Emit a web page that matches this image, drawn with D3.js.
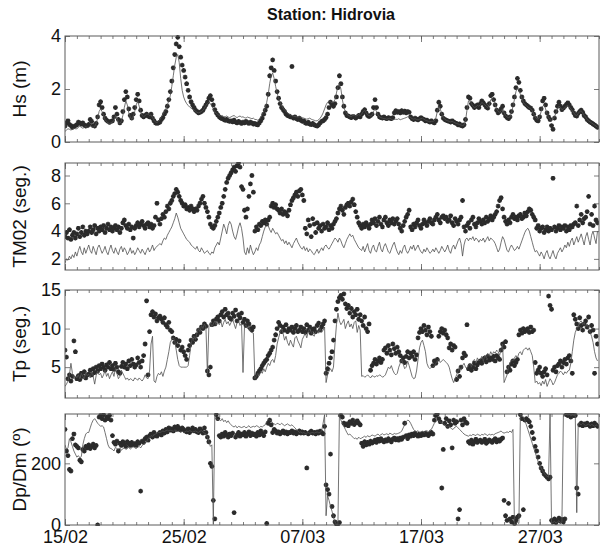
<!DOCTYPE html>
<html>
<head>
<meta charset="utf-8">
<script src="https://cdn.jsdelivr.net/npm/d3@7"></script>
<style>
  html, body { margin: 0; padding: 0; background: #fff; }
  svg { display: block; font-family: "Liberation Sans", Arial, Helvetica, sans-serif; }
</style>
</head>
<body>
<svg id="chart" width="607" height="546"></svg>
<script>
// Station Hidrovia: measured (markers) vs modelled (line) wave parameters,
// 3-hourly samples from 15/02 00h, one row per day.

const startDate = "15/02/2010";
const endDate = "01/04/2010";
const stepHours = 3;
const xTickLabels = ["15/02", "25/02", "07/03", "17/03", "27/03"];

const hsTicks = [0, 2, 4];
const tm02Ticks = [2, 4, 6, 8];
const tpTicks = [5, 10, 15];
const dirTicks = [0, 200];

// Significant wave height (m)
const hsObs = [
  0.60, 0.72, 0.80, 0.66, 0.62, 0.55, 0.58, 0.62,
  0.65, 0.75, 0.72, 0.68, 0.72, 0.64, 0.60, 0.62,
  0.66, 0.85, 0.78, 0.62, 0.60, 0.70, 0.95, 1.40,
  1.52, 1.30, 1.05, 0.90, 0.82, 0.78, 0.74, 0.78,
  0.80, 0.95, 1.30, 1.05, 0.85, 0.72, 0.80, 1.15,
  1.60, 1.90, 1.70, 1.25, 1.00, 0.90, 1.05, 1.30,
  1.60, 1.80, 1.55, 1.20, 1.00, 0.95, 1.00, 1.05,
  0.98, 0.95, 1.05, 0.90, 0.80, 0.72, 0.70, 0.72,
  0.75, 0.85, 0.92, 1.05, 1.15, 1.35, 1.60, 1.90,
  2.30, 2.80, 3.30, 3.70, 3.95, 3.60, 3.20, 2.90,
  2.70, 2.45, 2.20, 1.95, 1.70, 1.52, 1.40, 1.30,
  1.20, 1.15, 1.10, 1.12, 1.15, 1.20, 1.30, 1.40,
  1.50, 1.65, 1.75, 1.60, 1.40, 1.22, 1.10, 1.02,
  0.95, 0.90, 0.88, 0.85, 0.82, 0.85, 0.80, 0.78,
  0.80, 0.76, 0.82, 0.75, 0.72, 0.78, 0.74, 0.70,
  0.75, 0.72, 0.78, 0.74, 0.70, 0.75, 0.72, 0.68,
  0.70, 0.66, 0.65, 0.72, 0.80, 0.90, 1.05, 1.20,
  1.35, 1.80, 2.50, 2.80, 3.10, 2.70, 2.30, 1.90,
  1.65, 1.45, 1.30, 1.22, 1.15, 1.05, 1.00, 0.98,
  0.95, 2.85, 0.90, 0.95, 0.88, 0.85, 0.90, 0.82,
  0.78, 0.80, 0.72, 0.70, 0.75, 0.68, 0.66, 0.70,
  0.65, 0.62, 0.60, 0.65, 0.72, 0.78, 0.80, 0.85,
  0.92, 1.05, 1.30, 1.50, 1.42, 1.35, 1.45, 1.70,
  2.05, 2.50, 2.20, 1.70, 1.35, 1.10, 1.00, 0.98,
  0.95, 0.92, 0.96, 0.95, 0.90, 0.95, 1.00, 0.95,
  1.05, 1.15, 1.22, 1.10, 1.00, 0.96, 1.00, 1.05,
  1.30, 1.60, 1.30, 1.05, 0.95, 0.92, 0.90, 0.95,
  0.90, 0.88, 0.92, 0.90, 0.88, 0.92, 1.10, 1.18,
  1.12, 1.15, 1.10, 1.18, 1.12, 1.16, 1.10, 1.15,
  1.12, 0.95, 0.88, 0.85, 0.90, 0.86, 0.84, 0.88,
  0.92, 0.88, 0.85, 0.80, 0.82, 0.78, 0.75, 0.80,
  0.75, 0.72, 0.80, 1.20, 1.50, 1.35, 1.05, 0.90,
  0.85, 0.82, 0.80, 0.78, 0.75, 0.80, 0.76, 0.72,
  0.70, 0.65, 0.68, 0.62, 0.60, 0.65, 0.85, 1.30,
  1.70, 1.65, 1.45, 1.38, 1.30, 1.35, 1.40, 1.30,
  1.45, 1.55, 1.48, 1.40, 1.32, 1.28, 1.45, 1.75,
  1.80, 1.60, 1.40, 1.20, 1.10, 1.15, 1.25, 1.35,
  1.10, 0.98, 0.92, 0.88, 0.95, 1.15, 1.40, 1.70,
  2.05, 2.40, 2.25, 1.95, 1.70, 1.55, 1.45, 1.40,
  1.35, 1.30, 1.28, 1.20, 1.05, 0.90, 0.82, 0.80,
  0.95, 1.25, 1.55, 1.65, 1.40, 1.10, 0.95, 0.85,
  0.62, 0.48, 0.90, 1.15, 1.35, 1.50, 1.35, 1.22,
  1.28, 1.35, 1.42, 1.48, 1.40, 1.30, 1.22, 1.10,
  1.00, 0.98, 1.08, 1.15, 1.20, 1.12, 1.00, 0.95,
  0.85, 0.80, 0.75, 0.72, 0.68, 0.64, 0.60, 0.55
];
const hsModel = [
  0.40, 0.45, 0.50, 0.48, 0.45, 0.48, 0.52, 0.50,
  0.50, 0.55, 0.60, 0.55, 0.52, 0.55, 0.58, 0.55,
  0.55, 0.60, 0.58, 0.55, 0.58, 0.70, 0.90, 1.15,
  1.25, 1.15, 1.00, 0.85, 0.78, 0.72, 0.70, 0.72,
  0.75, 0.82, 1.00, 0.90, 0.75, 0.70, 0.78, 1.00,
  1.30, 1.55, 1.40, 1.10, 0.95, 0.85, 0.95, 1.15,
  1.40, 1.55, 1.35, 1.15, 1.00, 0.95, 1.00, 1.05,
  1.05, 1.00, 1.02, 0.92, 0.82, 0.75, 0.74, 0.78,
  0.85, 0.95, 1.05, 1.15, 1.25, 1.40, 1.55, 1.75,
  2.10, 2.50, 2.90, 3.20, 3.30, 3.00, 2.40, 1.95,
  1.70, 1.55, 1.45, 1.38, 1.32, 1.28, 1.24, 1.20,
  1.16, 1.12, 1.10, 1.12, 1.15, 1.20, 1.28, 1.38,
  1.45, 1.50, 1.45, 1.35, 1.25, 1.15, 1.08, 1.04,
  1.00, 0.98, 1.00, 0.96, 0.95, 0.98, 0.94, 0.92,
  0.95, 0.98, 1.00, 0.95, 0.92, 0.96, 0.98, 0.94,
  0.95, 0.92, 0.90, 0.94, 0.92, 0.90, 0.88, 0.90,
  0.85, 0.85, 0.82, 0.86, 0.95, 1.05, 1.15, 1.30,
  1.50, 1.80, 2.20, 2.50, 2.60, 2.40, 2.10, 1.85,
  1.65, 1.50, 1.38, 1.28, 1.20, 1.15, 1.10, 1.05,
  1.02, 1.00, 0.98, 0.96, 0.95, 0.94, 0.95, 0.93,
  0.92, 0.90, 0.88, 0.86, 0.88, 0.90, 0.86, 0.84,
  0.82, 0.80, 0.80, 0.84, 0.90, 0.98, 1.10, 1.25,
  1.40, 1.50, 1.55, 1.52, 1.48, 1.50, 1.60, 1.85,
  2.10, 2.20, 2.00, 1.60, 1.30, 1.15, 1.05, 1.00,
  0.98, 0.96, 1.00, 1.02, 0.98, 1.00, 1.04, 1.00,
  1.05, 1.15, 1.20, 1.10, 1.02, 1.00, 0.98, 1.02,
  1.15, 1.25, 1.15, 1.02, 0.95, 0.92, 0.90, 0.88,
  0.88, 0.86, 0.88, 0.90, 0.86, 0.84, 0.85, 0.86,
  0.85, 0.88, 0.84, 0.86, 0.88, 0.90, 0.92, 0.95,
  0.95, 0.92, 0.88, 0.86, 0.88, 0.85, 0.83, 0.86,
  0.88, 0.90, 0.86, 0.82, 0.80, 0.78, 0.76, 0.78,
  0.78, 0.80, 0.90, 1.15, 1.35, 1.25, 1.05, 0.92,
  0.86, 0.82, 0.80, 0.78, 0.76, 0.78, 0.75, 0.72,
  0.70, 0.68, 0.66, 0.64, 0.62, 0.64, 0.80, 1.20,
  1.55, 1.55, 1.45, 1.35, 1.30, 1.32, 1.38, 1.35,
  1.40, 1.50, 1.45, 1.40, 1.35, 1.30, 1.40, 1.60,
  1.65, 1.55, 1.40, 1.25, 1.15, 1.12, 1.18, 1.25,
  1.10, 1.00, 0.95, 0.92, 0.95, 1.10, 1.35, 1.60,
  1.90, 2.05, 1.95, 1.80, 1.65, 1.50, 1.42, 1.38,
  1.32, 1.28, 1.25, 1.18, 1.05, 0.95, 0.88, 0.86,
  0.95, 1.15, 1.35, 1.40, 1.25, 1.05, 0.92, 0.85,
  0.80, 0.85, 0.95, 1.10, 1.25, 1.35, 1.30, 1.22,
  1.25, 1.30, 1.35, 1.38, 1.32, 1.25, 1.18, 1.10,
  1.02, 1.00, 1.08, 1.15, 1.18, 1.10, 1.00, 0.94,
  0.85, 0.80, 0.76, 0.72, 0.68, 0.64, 0.60, 0.56
];

// Mean period TM02 (s)
const tm02Obs = [
  3.6, 3.9, 3.5, 4.1, 3.4, 3.7, 3.9, 3.5,
  3.8, 4.2, 3.6, 3.9, 4.3, 3.7, 4.0, 3.8,
  4.0, 4.3, 3.9, 4.1, 4.4, 3.8, 4.2, 4.0,
  4.3, 4.1, 4.4, 3.9, 4.2, 4.5, 4.1, 4.3,
  4.0, 4.2, 4.4, 4.1, 4.3, 3.9, 4.2, 4.6,
  4.8, 4.4, 4.2, 4.5, 4.1, 4.3, 3.5, 4.2,
  4.4, 4.6, 4.3, 4.5, 4.7, 4.4, 4.2, 4.5,
  4.6, 4.3, 4.5, 4.2, 4.4, 5.0, 6.0, 4.8,
  4.5, 4.9, 5.2, 5.0, 5.4, 5.8, 5.6, 6.0,
  6.2, 6.5, 6.7, 7.0, 6.8, 6.5, 6.2, 6.0,
  5.8, 5.9, 5.6, 5.7, 5.5, 5.8, 5.6, 5.4,
  5.6, 5.5, 5.8, 6.0, 6.3, 6.5, 6.0, 5.7,
  5.4, 5.0, 4.5, 4.3, 4.2, 4.4, 4.7, 5.0,
  5.3, 5.7, 6.0, 6.5, 7.0, 7.5, 7.8, 8.0,
  8.2, 8.4, 8.6, 8.3, 8.7, 8.9, 8.6, 7.2,
  7.0, 5.5, 5.0, 5.6, 6.5, 7.4, 8.0, 6.8,
  4.0, 4.3, 4.1, 4.5, 4.4, 4.7, 4.6, 4.8,
  4.5, 4.8, 5.0, 5.8, 6.0, 5.7, 5.9, 5.6,
  5.5, 5.3, 5.6, 5.2, 5.4, 5.3, 5.1, 5.5,
  5.9, 6.2, 6.4, 6.6, 6.8, 6.5, 6.9, 7.0,
  6.6, 6.2, 4.2, 3.8, 4.8, 4.4, 3.6, 4.9,
  4.5, 3.9, 4.6, 4.2, 4.4, 4.0, 4.5, 4.2,
  4.3, 4.6, 4.1, 4.4, 4.2, 4.5, 4.7, 4.9,
  5.3, 5.6, 5.8, 5.5, 5.2, 5.7, 5.9, 6.0,
  5.8, 6.1, 6.3, 5.9, 5.4, 5.0, 4.6, 4.4,
  4.2, 4.5, 4.3, 4.6, 4.4, 4.2, 4.5, 4.8,
  4.6, 4.9, 4.4, 4.7, 5.0, 4.5, 4.3, 4.8,
  5.0, 4.6, 4.4, 4.8, 4.6, 4.9, 4.5, 4.7,
  4.9, 4.5, 4.2, 4.0, 4.4, 4.7, 5.0, 5.2,
  5.5, 4.3, 4.1, 4.5, 4.3, 4.6, 4.8, 4.4,
  4.2, 4.5, 4.8, 4.6, 4.4, 4.7, 4.9, 4.6,
  4.5, 4.8, 5.0, 5.2, 4.8, 4.6, 5.0, 5.1,
  4.9, 5.0, 4.7, 4.8, 5.1, 4.6, 4.4, 4.9,
  4.7, 4.5, 4.8, 5.0, 6.2, 4.3, 4.0, 4.4,
  4.6, 4.2, 4.8, 5.0, 4.5, 4.3, 4.6, 4.9,
  4.7, 4.5, 4.8, 4.6, 5.0, 4.7, 4.9, 5.1,
  4.8, 5.0, 5.2, 5.4, 5.8, 6.2, 6.4, 5.6,
  5.0, 4.7, 4.5, 4.8, 4.6, 5.0, 5.2, 4.9,
  5.0, 4.8, 5.1, 5.2, 4.9, 5.0, 5.3, 5.1,
  5.4, 5.6, 5.5, 5.2, 5.0, 4.8, 4.2, 4.4,
  4.0, 4.2, 4.3, 3.9, 4.1, 4.3, 4.0, 4.2,
  4.1, 7.8, 4.3, 4.0, 4.2, 4.4, 4.1, 4.3,
  4.2, 4.4, 4.0, 4.3, 4.1, 4.4, 4.3, 4.5,
  4.6, 5.8, 4.4, 4.8, 5.2, 4.6, 4.9, 5.0,
  5.4, 6.5, 4.5, 5.2, 4.4, 5.8, 4.8, 4.6
];
const tm02Model = [
  1.7, 2.0, 1.9, 2.2, 2.0, 2.3, 2.1, 2.5,
  2.2, 2.6, 2.9, 2.5, 2.3, 2.8, 2.4, 2.7,
  3.0, 2.6, 2.4, 2.9, 2.6, 2.3, 2.8, 3.0,
  2.7, 2.4, 2.6, 2.9, 2.5, 2.3, 2.7, 3.0,
  2.6, 2.4, 2.8, 2.5, 2.3, 2.7, 2.9, 2.5,
  2.8, 2.6, 2.3, 2.5, 2.8, 2.4, 2.6, 2.3,
  2.5, 2.8, 2.6, 2.4, 2.7, 2.5, 2.3, 2.6,
  2.8, 2.5, 2.7, 3.0, 2.6, 2.8, 2.9, 3.0,
  3.1, 3.0, 3.3, 3.5, 3.4, 3.7, 3.9, 4.1,
  4.3, 4.6, 4.9, 5.3, 5.0, 4.6, 4.2, 4.0,
  3.8, 3.6, 3.4, 3.3, 3.2, 3.0, 2.9, 2.8,
  2.7, 2.9, 2.6, 2.5, 2.8, 2.6, 2.4, 2.5,
  2.6, 2.4, 2.3, 2.5, 2.4, 2.8, 3.0, 3.2,
  3.0, 3.5, 4.0, 4.5, 4.2, 3.8, 4.4, 4.7,
  4.5, 4.0, 3.6, 3.4, 3.8, 4.3, 4.6, 4.2,
  3.5, 2.5, 2.3, 2.8, 2.4, 3.0, 2.6, 2.3,
  2.5, 2.8, 2.6, 3.0, 3.2, 3.6, 4.0, 4.3,
  4.5, 4.4, 4.1, 3.9, 4.2, 4.0, 3.8, 3.9,
  3.7, 3.5, 3.3, 3.4, 3.1, 3.3, 3.0, 3.2,
  3.0, 2.8, 3.1, 3.3, 3.5, 3.2, 3.0, 2.8,
  2.7, 2.9, 2.6, 2.8, 2.5, 2.7, 2.6, 2.4,
  2.3, 2.5, 2.7, 2.4, 2.6, 2.8, 2.6, 2.9,
  3.0, 2.8, 2.7, 2.9, 3.1, 3.3, 3.5, 3.4,
  3.2, 3.5, 3.3, 3.0, 2.8, 3.1, 3.4, 3.6,
  3.8, 3.6, 3.7, 3.4, 3.2, 3.0, 2.8, 2.7,
  2.6, 2.9, 2.5, 2.8, 3.1, 2.6, 2.4, 2.8,
  3.0, 2.6, 2.5, 2.9, 3.2, 2.7, 2.5, 2.9,
  3.1, 2.8, 2.5, 2.4, 2.7, 3.0, 3.2, 2.8,
  2.5, 2.3, 2.6, 2.4, 2.8, 3.0, 2.6, 2.4,
  2.6, 2.9, 2.7, 3.0, 2.6, 2.8, 3.0, 2.7,
  2.5, 2.4, 2.7, 2.5, 2.8, 2.6, 2.4, 2.5,
  2.7, 2.5, 2.8, 2.6, 2.4, 2.6, 2.9, 2.7,
  2.5, 2.7, 3.0, 2.6, 2.4, 2.8, 3.0, 2.7,
  3.0, 3.3, 3.5, 3.1, 2.2, 3.0, 3.4, 3.5,
  3.3, 3.5, 3.4, 3.6, 3.3, 3.5, 3.4, 3.2,
  3.4, 3.3, 3.5, 3.2, 3.4, 3.6, 3.3, 3.5,
  3.4, 3.3, 3.1, 2.8, 2.5, 2.7, 3.2, 3.6,
  3.4, 3.0, 2.6, 2.5, 2.8, 3.0, 2.8, 2.6,
  2.7, 2.9, 2.7, 3.0, 3.3, 3.6, 3.9, 4.1,
  4.2, 4.0, 3.6, 3.2, 2.8, 2.5, 2.6, 2.4,
  2.2, 2.5, 2.3, 2.0, 2.4, 2.6, 2.2, 2.0,
  2.3, 2.6, 2.2, 2.0, 2.4, 2.6, 2.8, 2.5,
  2.7, 3.0, 2.8, 3.2, 2.9, 3.3, 3.5, 3.0,
  3.3, 3.6, 3.2, 3.5, 3.8, 3.4, 3.0, 3.6,
  3.9, 3.4, 3.0, 3.7, 4.0, 3.5, 3.1, 4.0
];

// Peak period Tp (s)
const tpObs = [
  7.2, 6.3, 3.5, 4.0, 3.2, 3.8, 8.4, 7.0,
  3.5, 3.9, 3.4, 4.2, 3.8, 4.4, 3.6, 4.0,
  4.1, 4.6, 4.0, 4.8, 4.3, 5.0, 4.5, 5.2,
  4.8, 5.4, 5.0, 4.6, 5.3, 5.0, 5.6, 4.8,
  5.2, 4.7, 5.5, 5.0, 4.4, 4.2, 5.1, 5.6,
  5.0, 5.4, 4.8, 5.8, 5.2, 6.0, 5.4, 5.0,
  5.3, 6.2, 5.6, 5.0, 5.8, 6.5, 8.0, 13.6,
  4.0, 9.6, 11.8, 12.2, 11.5, 11.9, 11.0, 11.4,
  11.6, 11.2, 10.8, 11.4, 10.5, 10.2, 10.8, 9.8,
  9.6, 8.8, 8.2, 8.6, 7.8, 8.4, 7.2, 7.6,
  7.0, 6.5, 6.0, 7.2, 7.8, 8.5, 8.2, 9.0,
  8.6, 9.2, 9.8, 9.5, 10.2, 10.0, 10.6, 10.3,
  4.5, 4.0, 5.0, 10.5, 11.0, 10.6, 11.2, 11.5,
  11.0, 11.8, 12.2, 11.5, 12.5, 11.8, 12.0, 11.4,
  11.2, 12.0, 11.6, 12.4, 11.0, 11.8, 11.4, 12.0,
  10.8, 11.2, 10.4, 11.0, 10.6, 10.0, 9.8, 10.2,
  3.6, 3.8, 4.2, 4.5, 4.8, 5.2, 5.5, 5.8,
  6.0, 6.5, 6.8, 7.2, 7.6, 8.5, 9.2, 10.0,
  10.8, 10.4, 9.6, 10.2, 9.8, 10.5, 9.6, 10.0,
  9.8, 10.2, 9.5, 10.0, 10.4, 9.6, 9.8, 10.2,
  9.6, 10.0, 9.5, 10.5, 9.8, 10.2, 9.4, 9.9,
  10.0, 9.6, 10.4, 10.7, 9.8, 10.2, 10.6, 11.0,
  4.2, 4.8, 5.5, 6.2, 7.0, 8.5, 11.0, 12.5,
  13.5, 14.0, 14.3, 13.8, 14.5, 13.2, 12.6, 13.0,
  12.0, 12.6, 11.5, 12.2, 11.8, 12.5, 11.2, 11.8,
  11.0, 10.4, 11.5, 10.0, 9.6, 10.6, 4.6, 5.2,
  5.5, 6.0, 5.4, 5.8, 6.2, 5.6, 6.0, 7.2,
  7.5, 6.8, 7.8, 7.2, 6.6, 8.0, 7.4, 6.8,
  7.6, 7.0, 6.5, 5.8, 6.2, 5.6, 6.4, 7.0,
  6.2, 6.8, 6.4, 7.0, 6.0, 6.6, 8.8, 9.5,
  10.0, 9.6, 10.4, 9.8, 9.2, 10.2, 9.6, 9.0,
  5.2, 5.8, 5.5, 6.0, 9.0, 9.6, 10.0, 9.4,
  9.8, 9.2, 8.8, 7.5, 8.0, 7.2, 7.8, 7.6,
  3.4, 4.5, 3.8, 5.0, 6.2, 6.8, 6.5, 10.5,
  4.8, 5.2, 4.6, 5.0, 5.5, 4.8, 5.3, 5.6,
  5.8, 5.5, 6.0, 6.2, 5.7, 6.4, 5.9, 6.2,
  6.0, 6.4, 5.8, 6.5, 6.2, 6.0, 7.2, 8.0,
  7.6, 8.3, 4.4, 5.0, 4.6, 5.4, 5.8, 5.2,
  5.6, 6.0, 9.2, 9.8, 9.4, 10.0, 9.6, 9.8,
  10.0, 9.5, 10.2, 9.6, 9.8, 5.6, 4.2, 4.6,
  5.0, 4.2, 3.8, 4.4, 4.8, 4.0, 14.2, 13.0,
  12.5, 4.6, 5.0, 4.4, 5.2, 5.4, 5.8, 5.0,
  5.6, 6.0, 5.4, 6.2, 6.5, 5.8, 4.2, 11.8,
  11.2, 10.6, 10.0, 11.4, 10.4, 9.8, 10.6, 11.0,
  10.2, 11.5, 9.6, 10.4, 9.8, 4.2, 9.0, 8.0
];
const tpModel = [
  2.5, 2.8, 3.2, 4.0, 5.5, 4.2, 3.5, 3.8,
  3.6, 4.0, 3.5, 4.2, 3.8, 3.5, 4.3, 3.9,
  4.1, 3.6, 4.4, 3.8, 2.8, 3.9, 4.5, 4.0,
  4.2, 3.6, 4.0, 4.6, 3.8, 4.2, 3.5, 4.0,
  4.4, 3.8, 4.8, 4.2, 3.5, 3.8, 4.6, 4.2,
  3.8, 3.4, 3.6, 3.3, 3.5, 3.4, 3.2, 3.6,
  3.5, 3.3, 3.6, 3.4, 3.2, 3.5, 4.0, 3.6,
  3.5, 4.5, 8.0, 9.0, 3.2, 3.0, 3.8, 4.2,
  4.0, 4.4, 3.8, 4.5, 5.0, 6.0, 7.0, 8.2,
  8.6, 8.8, 8.4, 7.2, 6.0, 5.2, 5.0, 5.0,
  5.0, 5.0, 5.0, 5.2, 6.5, 8.0, 8.8, 9.0,
  8.6, 9.5, 10.0, 9.6, 10.4, 10.0, 10.6, 10.2,
  4.2, 10.4, 10.8, 10.2, 10.6, 11.0, 10.4, 10.8,
  10.5, 11.0, 10.2, 10.8, 11.2, 10.6, 10.9, 10.4,
  10.8, 11.2, 10.6, 10.0, 10.8, 11.0, 10.4, 10.7,
  4.3, 10.2, 10.5, 10.0, 10.4, 9.6, 9.5, 9.4,
  3.5, 3.8, 4.2, 3.9, 4.5, 4.2, 4.8, 4.4,
  5.0, 5.5, 5.2, 5.8, 6.0, 5.6, 6.5, 8.0,
  8.8, 9.5, 10.0, 9.4, 8.5, 9.0, 8.2, 7.8,
  8.5, 8.0, 7.6, 8.8, 9.0, 8.4, 8.0, 7.5,
  8.6, 9.0, 9.4, 8.8, 9.6, 10.0, 9.5, 9.2,
  9.0, 9.6, 9.8, 9.4, 10.0, 9.5, 9.8, 10.2,
  3.0, 4.0, 4.5, 4.8, 4.4, 5.0, 8.0, 10.5,
  12.0, 11.0, 10.5, 10.8, 11.2, 10.0, 10.6, 11.0,
  10.2, 10.6, 10.0, 10.8, 11.0, 9.5, 10.4, 9.8,
  3.8, 3.9, 3.7, 3.8, 4.0, 3.8, 3.6, 3.9,
  3.8, 3.7, 3.9, 3.8, 4.0, 3.9, 3.7, 3.8,
  4.0, 4.5, 5.0, 4.8, 5.2, 4.6, 4.2, 4.0,
  4.2, 5.0, 5.5, 6.0, 5.4, 4.8, 5.0, 5.8,
  5.2, 4.5, 3.8, 3.5, 3.6, 4.5, 6.0, 7.5,
  8.2, 8.5, 7.8, 7.0, 5.5, 5.0, 4.8, 5.0,
  5.0, 5.2, 5.5, 5.8, 6.0, 5.6, 5.8, 6.0,
  5.8, 5.6, 5.4, 5.0, 4.2, 3.5, 3.0, 3.5,
  4.0, 4.5, 5.0, 4.6, 5.2, 5.5, 5.0, 4.8,
  5.2, 5.5, 5.0, 5.8, 6.0, 5.5, 6.2, 5.8,
  6.0, 6.4, 5.8, 6.5, 6.2, 6.8, 6.4, 7.0,
  6.6, 7.0, 6.8, 7.2, 7.0, 6.5, 7.4, 8.0,
  3.0, 3.5, 4.0, 5.0, 5.5, 6.0, 5.8, 6.2,
  6.5, 6.2, 6.8, 7.0, 6.6, 7.2, 7.4, 7.5,
  7.2, 7.5, 7.0, 6.5, 5.0, 3.0, 3.2, 2.8,
  3.0, 2.6, 3.2, 2.8, 3.4, 2.5, 3.0, 3.5,
  3.2, 2.7, 3.0, 3.5, 4.0, 4.2, 4.5, 4.3,
  4.0, 4.4, 4.2, 4.5, 4.6, 5.5, 7.0, 8.5,
  9.5, 10.0, 10.2, 10.8, 11.0, 10.5, 10.8, 10.2,
  10.6, 10.0, 9.5, 9.0, 8.2, 7.0, 6.2, 5.8
];

// Peak / mean direction (degrees)
const dirObs = [
  310, 240, 225, 180, 175, 280, 295, 260,
  255, 250, 210, 205, 245, 240, 255, 250,
  260, 248, 255, 262, 250, 258, 0, 350,
  355, 345, 358, 340, 350, 345, 355, 340,
  290, 268, 262, 272, 240, 265, 258, 270,
  262, 255, 270, 265, 258, 268, 260, 264,
  258, 270, 265, 110, 272, 268, 280, 285,
  275, 290, 295, 285, 300, 290, 288, 295,
  300, 292, 305, 298, 310, 302, 315, 308,
  312, 305, 318, 310, 320, 312, 308, 315,
  310, 305, 302, 312, 300, 308, 315, 305,
  310, 302, 300, 312, 305, 298, 315, 300,
  285, 270, 200, 190, 80, 20, 358, 345,
  290, 285, 295, 288, 300, 292, 285, 295,
  290, 298, 40, 285, 292, 300, 288, 295,
  292, 300, 288, 295, 302, 290, 298, 293,
  295, 288, 300, 292, 305, 296, 290, 302,
  5, 330, 340, 325, 300, 310, 305, 298,
  302, 296, 300, 305, 298, 302, 296, 300,
  300, 305, 298, 302, 296, 300, 305, 298,
  302, 298, 300, 185, 296, 300, 304, 298,
  300, 296, 302, 298, 304, 300, 296, 320,
  130, 115, 100, 230, 60, 30, 10, 2,
  3, 8, 355, 350, 330, 325, 328, 322,
  335, 330, 340, 326, 332, 338, 330, 325,
  265, 255, 270, 260, 268, 262, 272, 266,
  270, 275, 268, 278, 272, 280, 274, 270,
  276, 272, 280, 275, 270, 278, 282, 276,
  280, 275, 282, 278, 285, 330, 290, 280,
  292, 288, 295, 290, 298, 292, 288, 295,
  290, 296, 292, 298, 294, 290, 296, 300,
  295, 340, 355, 360, 345, 335, 120, 245,
  330, 345, 320, 338, 325, 250, 340, 330,
  335, 20, 50, 340, 325, 345, 335, 330,
  270, 265, 275, 262, 270, 278, 268, 272,
  275, 268, 272, 278, 265, 270, 276, 272,
  268, 275, 280, 270, 276, 272, 278, 282,
  80, 30, 15, 70, 20, 10, 25, 5,
  15, 25, 30, 358, 345, 50, 340, 345,
  340, 335, 320, 300, 280, 255, 240, 220,
  200, 185, 175, 165, 160, 155, 150, 155,
  15, 10, 20, 8, 15, 22, 12, 18,
  10, 20, 358, 355, 360, 350, 358, 355,
  355, 120, 100, 325, 330, 322, 328, 325,
  330, 325, 320, 328, 322, 330, 325, 320
];
const dirModel = [
  260, 245, 250, 280, 270, 255, 240, 230,
  220, 225, 218, 222, 260, 280, 295, 300,
  300, 315, 330, 340, 345, 338, 330, 325,
  320, 322, 318, 300, 280, 260, 250, 248,
  245, 240, 252, 248, 245, 250, 242, 248,
  250, 245, 248, 252, 246, 250, 255, 250,
  248, 252, 255, 250, 258, 262, 265, 270,
  280, 285, 290, 288, 292, 295, 298, 300,
  300, 302, 305, 303, 306, 308, 305, 307,
  306, 304, 308, 306, 303, 305, 302, 304,
  300, 302, 305, 303, 306, 304, 301, 303,
  305, 302, 300, 304, 306, 302, 298, 295,
  285, 270, 255, 260, 2, 360, 345, 340,
  342, 338, 345, 335, 340, 332, 338, 330,
  325, 320, 318, 322, 315, 320, 318, 316,
  318, 320, 315, 318, 322, 316, 318, 320,
  318, 322, 320, 316, 320, 318, 322, 325,
  335, 342, 340, 338, 330, 328, 325, 330,
  328, 325, 330, 326, 322, 325, 328, 324,
  322, 325, 320, 315, 310, 305, 300, 302,
  298, 300, 296, 298, 300, 297, 299, 300,
  298, 300, 302, 299, 300, 305, 330, 358,
  30, 95, 80, 60, 45, 25, 10, 2,
  3, 358, 340, 330, 320, 310, 300, 292,
  295, 290, 285, 280, 282, 278, 285, 280,
  282, 285, 288, 284, 290, 286, 288, 292,
  290, 288, 292, 295, 290, 293, 296, 292,
  294, 296, 292, 298, 295, 293, 297, 295,
  296, 298, 300, 305, 315, 325, 335, 340,
  338, 330, 320, 310, 305, 302, 306, 300,
  302, 305, 300, 304, 306, 302, 308, 310,
  320, 330, 335, 340, 338, 335, 330, 328,
  325, 320, 318, 322, 315, 310, 312, 318,
  320, 315, 310, 305, 300, 295, 292, 290,
  288, 292, 290, 294, 292, 290, 295, 292,
  290, 294, 292, 296, 293, 290, 295, 292,
  294, 292, 296, 298, 300, 302, 305, 300,
  298, 300, 302, 300, 305, 300, 310, 0,
  5, 8, 5, 358, 355, 350, 340, 325,
  310, 295, 280, 265, 250, 235, 220, 205,
  195, 185, 175, 168, 162, 158, 155, 360,
  5, 8, 12, 6, 10, 14, 8, 10,
  358, 355, 360, 356, 358, 354, 357, 355,
  356, 40, 330, 328, 325, 330, 326, 322,
  325, 328, 322, 326, 324, 320, 325, 322
];

// ---- layout ----
const svg = d3.select("#chart");
const plotLeft = 65, plotRight = 599;
const axisColor = "#5a5a5a";
const markColor = "#2b2b2b";
const lineColor = "#505050";
const tickFont = 18;
const labelFont = 19;

const parseDay = d3.utcParse("%d/%m/%Y");
const t0 = parseDay(startDate);
const t1 = parseDay(endDate);
const times = hsObs.map((_, i) => d3.utcHour.offset(t0, i * stepHours));
const majorDates = xTickLabels.map(s => {
  const [dd, mm] = s.split("/");
  return parseDay(`${dd}/${mm}/2010`);
});
const minorDates = d3.utcDay.range(t0, d3.utcDay.offset(t1, 1));

const x = d3.scaleUtc().domain([t0, t1]).range([plotLeft, plotRight]);

const panels = [
  { label: "Hs (m)", obs: hsObs, model: hsModel, domain: [0, 4], ticks: hsTicks, top: 36, bottom: 142 },
  { label: "TM02 (seg.)", obs: tm02Obs, model: tm02Model, domain: [1.2, 8.9], ticks: tm02Ticks, top: 163, bottom: 270 },
  { label: "Tp (seg.)", obs: tpObs, model: tpModel, domain: [1, 15], ticks: tpTicks, top: 290, bottom: 398 },
  { label: "Dp/Dm (º)", obs: dirObs, model: dirModel, domain: [0, 360], ticks: dirTicks, top: 414, bottom: 525 }
];

// Small asterisk marker, centred on the origin
const r = 2.4, rd = 1.7;
const asterisk = `M${-r},0H${r}M0,${-r}V${r}M${-rd},${-rd}L${rd},${rd}M${-rd},${rd}L${rd},${-rd}`;

svg.append("text")
  .attr("x", 331)
  .attr("y", 20)
  .attr("text-anchor", "middle")
  .attr("font-size", 16)
  .attr("font-weight", "bold")
  .attr("fill", "#111")
  .text("Station: Hidrovia");

panels.forEach((p, idx) => {
  const y = d3.scaleLinear().domain(p.domain).range([p.bottom, p.top]);
  const g = svg.append("g");
  const clipId = `clip${idx}`;
  svg.append("clipPath").attr("id", clipId)
    .append("rect")
    .attr("x", plotLeft).attr("y", p.top - 1)
    .attr("width", plotRight - plotLeft).attr("height", p.bottom - p.top + 2);

  // minor day ticks, top and bottom
  const minorB = d3.axisBottom(x).tickValues(minorDates).tickSize(-3).tickFormat("");
  const minorT = d3.axisTop(x).tickValues(minorDates).tickSize(-3).tickFormat("");
  g.append("g").attr("transform", `translate(0,${p.bottom})`).call(minorB);
  g.append("g").attr("transform", `translate(0,${p.top})`).call(minorT);

  // major ticks
  const majorB = d3.axisBottom(x).tickValues(majorDates).tickSize(-6).tickPadding(5)
    .tickFormat(idx === panels.length - 1 ? ((d, i) => xTickLabels[i]) : "");
  const majorT = d3.axisTop(x).tickValues(majorDates).tickSize(-6).tickFormat("");
  g.append("g").attr("class", "xb").attr("transform", `translate(0,${p.bottom})`).call(majorB);
  g.append("g").attr("transform", `translate(0,${p.top})`).call(majorT);

  const yl = d3.axisLeft(y).tickValues(p.ticks).tickSize(-5).tickPadding(4).tickFormat(d3.format("d"));
  const yr = d3.axisRight(y).tickValues(p.ticks).tickSize(-5).tickFormat("");
  g.append("g").attr("class", "yl").attr("transform", `translate(${plotLeft},0)`).call(yl);
  g.append("g").attr("transform", `translate(${plotRight},0)`).call(yr);

  g.selectAll(".domain").remove();
  g.selectAll(".tick line").attr("stroke", axisColor).attr("stroke-width", 0.8);
  g.selectAll(".tick text").attr("font-size", tickFont).attr("fill", "#111")
    .attr("font-family", "'Liberation Sans', Arial, sans-serif");

  // observations
  const marks = g.append("g").attr("clip-path", `url(#${clipId})`);
  marks.selectAll("path.obs")
    .data(p.obs)
    .join("path")
    .attr("class", "obs")
    .attr("d", asterisk)
    .attr("transform", (d, i) => `translate(${x(times[i])},${y(d)})`)
    .attr("fill", "none")
    .attr("stroke", markColor)
    .attr("stroke-width", 1.4);

  // model
  const line = d3.line().x((d, i) => x(times[i])).y(d => y(d));
  marks.append("path")
    .datum(p.model)
    .attr("d", line)
    .attr("fill", "none")
    .attr("stroke", lineColor)
    .attr("stroke-width", 0.8);

  // frame
  g.append("rect")
    .attr("x", plotLeft).attr("y", p.top)
    .attr("width", plotRight - plotLeft).attr("height", p.bottom - p.top)
    .attr("fill", "none")
    .attr("stroke", axisColor)
    .attr("stroke-width", 1);

  // axis title
  svg.append("text")
    .attr("transform", `translate(19,${(p.top + p.bottom) / 2}) rotate(-90)`)
    .attr("text-anchor", "middle")
    .attr("dominant-baseline", "central")
    .attr("font-size", labelFont)
    .attr("fill", "#111")
    .text(p.label);
});
</script>
</body>
</html>
